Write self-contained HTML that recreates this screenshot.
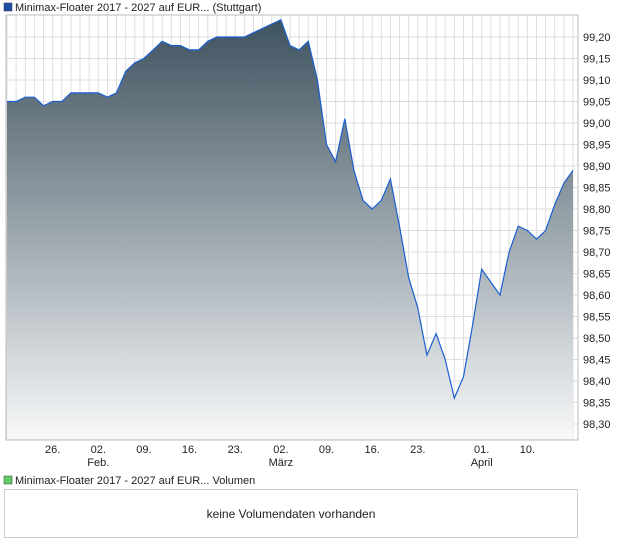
<!DOCTYPE html>
<html><head><meta charset="utf-8"><style>
body{margin:0;background:#fff;font-family:"Liberation Sans",sans-serif;}
svg text{font-family:"Liberation Sans",sans-serif;}
</style></head><body>
<svg width="620" height="546" viewBox="0 0 620 546">
<defs><linearGradient id="g" x1="0" y1="0" x2="0" y2="1">
<stop offset="0" stop-color="#3e525f"/><stop offset="1" stop-color="#f8f9fa"/></linearGradient></defs>
<rect x="4" y="3" width="8" height="8" fill="#1d4fa8" stroke="#333" stroke-width="0.5"/>
<text x="15" y="11" font-size="11" fill="#222">Minimax-Floater 2017 - 2027 auf EUR... (Stuttgart)</text>
<g id="grid"></g>
<path id="area" fill="url(#g)"/>
<path id="line" fill="none" stroke="#1b5fd0" stroke-width="1.2"/>
<rect x="6" y="15" width="572" height="425" fill="none" stroke="#bbb"/>
<g id="ylab"></g><g id="xlab"></g>
<rect x="4" y="476" width="8" height="8" fill="#6c6" stroke="#333" stroke-width="0.5"/>
<text x="15" y="484" font-size="11" fill="#222">Minimax-Floater 2017 - 2027 auf EUR... Volumen</text>
<rect x="4.5" y="489.5" width="573" height="48" fill="#fff" stroke="#ccc"/>
<text x="291" y="518" font-size="12" fill="#222" text-anchor="middle">keine Volumendaten vorhanden</text>
</svg>
<script>
const values=[99.05,99.05,99.06,99.06,99.04,99.05,99.05,99.07,99.07,99.07,99.07,99.06,99.07,99.12,99.14,99.15,99.17,99.19,99.18,99.18,99.17,99.17,99.19,99.20,99.20,99.20,99.20,99.21,99.22,99.23,99.24,99.18,99.17,99.19,99.10,98.95,98.91,99.01,98.89,98.82,98.80,98.82,98.87,98.76,98.64,98.57,98.46,98.51,98.45,98.36,98.41,98.53,98.66,98.63,98.60,98.70,98.76,98.75,98.73,98.75,98.81,98.86,98.89];
const yTicks=[99.20,99.15,99.10,99.05,99.00,98.95,98.90,98.85,98.80,98.75,98.70,98.65,98.60,98.55,98.50,98.45,98.40,98.35,98.30];
const xTickIdx=[5,10,15,20,25,30,35,40,45,52,57];
const xTickLabels=["26.","02.","09.","16.","23.","02.","09.","16.","23.","01.","10."];
const xMonthLabels=["","Feb.","","","","März","","","","April",""];
const NS="http://www.w3.org/2000/svg";
const X=i=>7+i*(566/(values.length-1));
const Y=v=>424-(v-98.30)*430;
function mk(t,a,p){const e=document.createElementNS(NS,t);for(const k in a)e.setAttribute(k,a[k]);p.appendChild(e);return e;}
const grid=document.getElementById('grid');
for(let i=0;i<values.length;i++){const l=mk('line',{x1:X(i),x2:X(i),y1:15,y2:440,stroke:'#ddd'},grid);

}
const yl=document.getElementById('ylab');
yTicks.forEach(v=>{const l=mk('line',{x1:6,x2:578,y1:Y(v),y2:Y(v),stroke:'#ddd'},grid);


const t=mk('text',{x:583,y:Y(v)+4,'font-size':11,fill:'#222'},yl);t.textContent=v.toFixed(2).replace('.',',');

});
let d=values.map((v,i)=>(i?'L':'M')+X(i).toFixed(1)+' '+Y(v).toFixed(1)).join(' ');
document.getElementById('line').setAttribute('d',d);
document.getElementById('area').setAttribute('d',d+` L${X(values.length-1)} 440 L${X(0)} 440 Z`);
const xl=document.getElementById('xlab');
xTickIdx.forEach((i,k)=>{const t=mk('text',{x:X(i),y:453,'font-size':11,fill:'#222','text-anchor':'middle'},xl);t.textContent=xTickLabels[k];


if(xMonthLabels[k]){const m=mk('text',{x:X(i),y:466,'font-size':11,fill:'#222','text-anchor':'middle'},xl);m.textContent=xMonthLabels[k];

}});
</script>
</body></html>
